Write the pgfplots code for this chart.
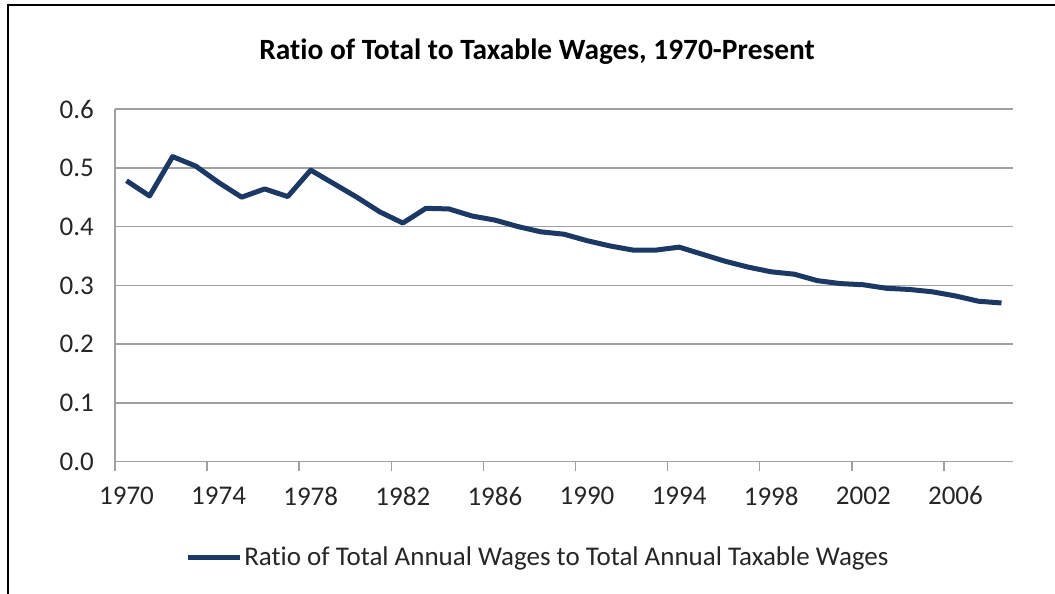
\documentclass[border=0pt]{standalone}
\usepackage{fontspec}
\setmainfont{Carlito}[Ligatures=NoCommon]
\usepackage{pgfplots}
\pgfplotsset{compat=1.18}

\definecolor{linenavy}{RGB}{28,56,100}
\definecolor{gridgray}{RGB}{160,160,160}

\pgfplotstableread{
year ratio
1970 0.478
1971 0.452
1972 0.519
1973 0.503
1974 0.475
1975 0.450
1976 0.464
1977 0.451
1978 0.496
1979 0.473
1980 0.450
1981 0.425
1982 0.406
1983 0.431
1984 0.430
1985 0.418
1986 0.411
1987 0.400
1988 0.391
1989 0.387
1990 0.376
1991 0.367
1992 0.360
1993 0.360
1994 0.365
1995 0.353
1996 0.341
1997 0.331
1998 0.323
1999 0.319
2000 0.308
2001 0.303
2002 0.301
2003 0.295
2004 0.293
2005 0.289
2006 0.282
2007 0.273
2008 0.270
}\wages

\begin{document}
\begin{tikzpicture}
\useasboundingbox (0,0) rectangle (527.5pt,297pt);
% chart area border (left and top only, as in the source)
\draw[line width=1.1pt,black] (4pt,0pt) -- (4pt,294.5pt) -- (527.5pt,294.5pt);
\node[font=\fontsize{14.7}{17}\selectfont\bfseries] at (268.5pt,271pt) {Ratio of Total to Taxable Wages, 1970-Present};
\begin{axis}[
    at={(57.5pt,66.15pt)}, anchor=south west,
    scale only axis,
    width=449pt, height=176.35pt,
    xmin=1969.5, xmax=2008.5,
    ymin=0, ymax=0.6,
    xtick={1970,1974,...,2006},
    minor xtick={1969.5,1973.5,...,2005.5},
    major tick length=0pt,
    minor tick length=4.5pt,
    xtick pos=bottom, ytick pos=left,
    tick align=outside,
    ytick={0,0.1,...,0.6},
    axis x line*=bottom, axis y line*=left,
    axis line style={gridgray, line width=0.75pt},
    every minor tick/.style={gridgray, line width=0.75pt},
    ymajorgrids,
    major grid style={gridgray, line width=0.75pt},
    xticklabel style={/pgf/number format/1000 sep={}, yshift=-9pt},
    yticklabel style={/pgf/number format/fixed, /pgf/number format/fixed zerofill, /pgf/number format/precision=1, xshift=-7pt},
    /pgf/number format/assume math mode=true,
    tick label style={font=\fontsize{13.5}{16}\selectfont, text=black!85},
    legend style={at={(0.471,-0.273)}, anchor=center, draw=none, fill=none,
        font=\fontsize{13.5}{16}\selectfont, text=black!85, inner sep=0pt,
        nodes={inner sep=1pt}},
    legend image code/.code={\draw[#1, line width=2.5pt] (0pt,0pt) -- (26pt,0pt);},
    legend cell align=left,
]
\addplot[color=linenavy, line width=2.5pt, line join=round] table[x=year, y=ratio] {\wages};
\addlegendentry{Ratio of Total Annual Wages to Total Annual Taxable Wages}
\end{axis}
\end{tikzpicture}
\end{document}
